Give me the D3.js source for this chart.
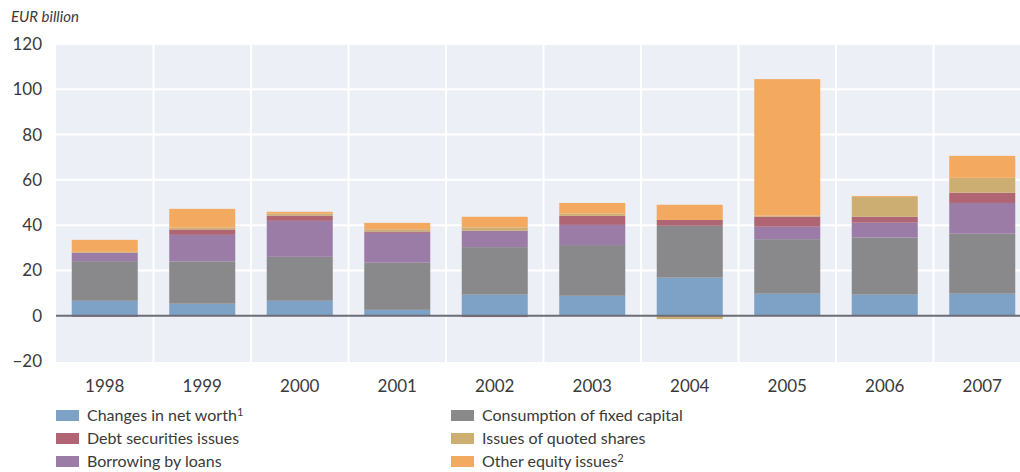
<!DOCTYPE html>
<html>
<head>
<meta charset="utf-8">
<script src="https://cdn.jsdelivr.net/npm/d3@7"></script>
<style>
  body { margin: 0; background: #fff; }
  svg { display: block; font-family: Lato, "Open Sans", sans-serif; }
  .tick-label { font-size: 17px; fill: #3a3a3a; }
  .legend text { font-size: 16px; fill: #3a3a3a; }
</style>
</head>
<body>
<div id="graph"></div>
<script>
var years = ['1998', '1999', '2000', '2001', '2002', '2003', '2004', '2005', '2006', '2007'];
var netWorth       = [6.6, 5.3, 6.6, 2.6, 9.3, 8.8, 16.8, 9.7, 9.3, 9.7];
var fixedCapital   = [17.5, 18.7, 19.4, 20.8, 21.0, 22.4, 22.9, 24.1, 25.2, 26.5];
var loans          = [3.7, 11.7, 15.9, 13.2, 7.2, 8.9, 0.0, 5.5, 6.6, 13.6];
var debtSecurities = [-0.5, 2.4, 2.3, 0.6, -0.6, 4.0, 2.6, 4.4, 2.6, 4.5];
var quotedShares   = [0.4, 0.8, 0.9, 1.0, 1.5, 1.0, -1.5, 0.5, 8.8, 6.6];
var otherEquity    = [5.3, 8.3, 0.8, 2.8, 4.7, 4.7, 6.7, 60.3, 0.4, 9.7];
var yTicks = [-20, 0, 20, 40, 60, 80, 100, 120];

var series = [
    { key: 'netWorth', label: 'Changes in net worth', sup: '1', color: '#7ea2c6', values: netWorth },
    { key: 'fixedCapital', label: 'Consumption of fixed capital', sup: '', color: '#89898b', values: fixedCapital },
    { key: 'loans', label: 'Borrowing by loans', sup: '', color: '#9a7ca6', values: loans },
    { key: 'debtSecurities', label: 'Debt securities issues', sup: '', color: '#af6574', values: debtSecurities },
    { key: 'quotedShares', label: 'Issues of quoted shares', sup: '', color: '#ccae73', values: quotedShares },
    { key: 'otherEquity', label: 'Other equity issues', sup: '2', color: '#f4a960', values: otherEquity }
];

var width = 1020,
    height = 472,
    plotLeft = 56,
    plotRight = 1031,
    plotTop = 44,
    plotBottom = 362;

var svg = d3.select('#graph')
    .append('svg')
    .attr('width', width)
    .attr('height', height);

var x = d3.scaleBand()
    .domain(years)
    .range([plotLeft, plotRight])
    .paddingInner(0.323)
    .paddingOuter(0.1615);

var y = d3.scaleLinear()
    .domain([-20, 120])
    .range([361, plotTop]);

// table for the stack
var table = years.map(function(yr, i) {
    var row = { year: yr };
    series.forEach(function(s) { row[s.key] = s.values[i]; });
    return row;
});

var stacked = d3.stack()
    .keys(series.map(function(s) { return s.key; }))
    .offset(d3.stackOffsetDiverging)(table);

// background
svg.append('rect')
    .attr('x', plotLeft)
    .attr('y', plotTop)
    .attr('width', plotRight - plotLeft)
    .attr('height', plotBottom - plotTop)
    .attr('fill', '#eceff6');

// grid
var gap = (x.step() - x.bandwidth()) / 2;
svg.append('g').selectAll('line')
    .data(years.slice(1))
    .enter()
    .append('line')
    .attr('x1', function(d) { return x(d) - gap; })
    .attr('x2', function(d) { return x(d) - gap; })
    .attr('y1', plotTop)
    .attr('y2', plotBottom)
    .attr('stroke', '#fff')
    .attr('stroke-width', 2);

svg.append('g').selectAll('line')
    .data(yTicks.filter(function(t) { return t !== 0 && t !== -20; }))
    .enter()
    .append('line')
    .attr('x1', plotLeft)
    .attr('x2', plotRight)
    .attr('y1', function(d) { return y(d); })
    .attr('y2', function(d) { return y(d); })
    .attr('stroke', '#fff')
    .attr('stroke-width', 2);

// bars
var layers = svg.append('g').selectAll('g')
    .data(stacked)
    .enter()
    .append('g')
    .attr('fill', function(d, i) { return series[i].color; });

layers.selectAll('rect')
    .data(function(d) { return d; })
    .enter()
    .append('rect')
    .attr('x', function(d) { return x(d.data.year); })
    .attr('width', x.bandwidth())
    .attr('y', function(d) { return y(Math.max(d[0], d[1])); })
    .attr('height', function(d) { return Math.abs(y(d[0]) - y(d[1])); });

// zero line
svg.append('line')
    .attr('x1', plotLeft)
    .attr('x2', plotRight)
    .attr('y1', y(0))
    .attr('y2', y(0))
    .attr('stroke', '#6c6c76')
    .attr('stroke-width', 2);

// y tick labels
svg.append('g').selectAll('text')
    .data(yTicks)
    .enter()
    .append('text')
    .attr('class', 'tick-label')
    .attr('x', 42)
    .attr('y', function(d) { return y(d); })
    .attr('dy', '0.35em')
    .attr('text-anchor', 'end')
    .text(function(d) { return d < 0 ? '\u2212' + Math.abs(d) : d; });

// x labels
svg.append('g').selectAll('text')
    .data(years)
    .enter()
    .append('text')
    .attr('class', 'tick-label')
    .attr('x', function(d) { return x(d) + x.bandwidth() / 2; })
    .attr('y', 386)
    .attr('dy', '0.35em')
    .attr('text-anchor', 'middle')
    .text(function(d) { return d; });

svg.append('text')
    .attr('x', 11)
    .attr('y', 22)
    .attr('font-size', 15)
    .attr('font-style', 'italic')
    .attr('fill', '#3a3a3a')
    .text('EUR billion');

// legend: two columns of three
var legendOrder = ['netWorth', 'debtSecurities', 'loans', 'fixedCapital', 'quotedShares', 'otherEquity'];
var legend = svg.append('g').attr('class', 'legend');
legendOrder.forEach(function(key, i) {
    var s = series.find(function(d) { return d.key === key; });
    var col = Math.floor(i / 3), row = i % 3;
    var lx = col === 0 ? 56 : 451;
    var ly = 415 + row * 23;
    legend.append('rect')
        .attr('x', lx)
        .attr('y', ly - 5)
        .attr('width', 23)
        .attr('height', 11)
        .attr('fill', s.color);
    var t = legend.append('text')
        .attr('x', lx + 31)
        .attr('y', ly)
        .attr('dy', '0.35em')
        .text(s.label);
    if (s.sup) {
        t.append('tspan')
            .attr('dy', '-0.4em')
            .attr('font-size', 11)
            .text(s.sup);
    }
});
</script>
</body>
</html>
